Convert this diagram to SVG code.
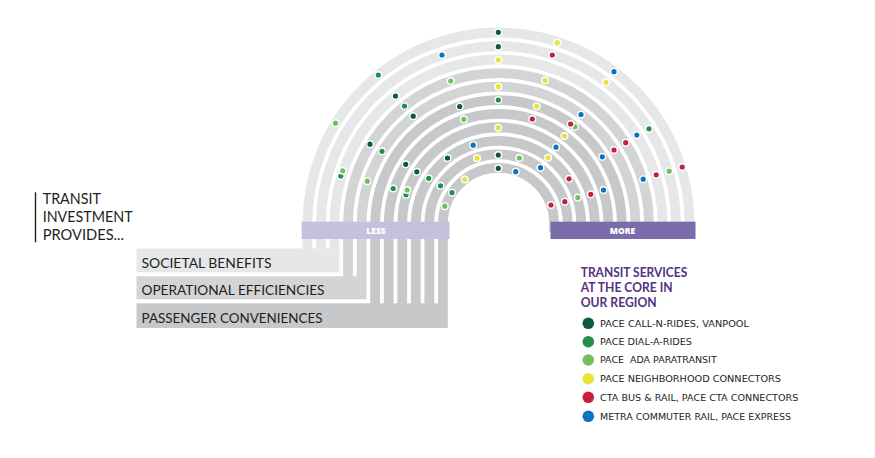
<svg xmlns="http://www.w3.org/2000/svg" width="875" height="458" viewBox="0 0 875 458">
<style>
.band{fill:none;stroke-width:9.8}
.l{stroke:#e6e7e8}.m{stroke:#d3d4d5}.d{stroke:#c7c8c9}
.dot{stroke:#fff;stroke-width:1.4}
.dg{fill:#0b5a3b}.g{fill:#22904a}.lg{fill:#72bf5e}.y{fill:#e8e336}.r{fill:#c5203e}.b{fill:#0b74c2}
.lbl{font-family:Lato,"Open Sans",sans-serif;font-size:14px;fill:#231f20}
.head{font-family:Lato,"Open Sans",sans-serif;font-size:14.5px;fill:#231f20}
.leg{font-family:"DejaVu Sans",sans-serif;font-size:8.5px;fill:#231f20}
.lt{font-family:Lato,"Open Sans",sans-serif;font-size:13px;font-weight:bold;fill:#55327f}
.bt{font-family:"Open Sans",Lato,sans-serif;font-size:8.5px;font-weight:800;fill:#fff;text-anchor:middle}
</style>
<rect width="875" height="458" fill="#fff"/>
<g id="arcs">
<path class="band l" d="M307.4,250 V223.5 A191.1,191.1 0 0 1 689.6,223.5 V232"/>
<path class="band l" d="M320.95,250 V223.5 A177.55,177.55 0 0 1 676.05,223.5 V232"/>
<path class="band l" d="M334.5,250 V223.5 A164,164 0 0 1 662.5,223.5 V232"/>
<path class="band m" d="M348.05,278 V223.5 A150.45,150.45 0 0 1 648.95,223.5 V232"/>
<path class="band m" d="M361.6,278 V223.5 A136.9,136.9 0 0 1 635.4,223.5 V232"/>
<path class="band d" d="M375.15,305 V223.5 A123.35,123.35 0 0 1 621.85,223.5 V232"/>
<path class="band d" d="M388.7,305 V223.5 A109.8,109.8 0 0 1 608.3,223.5 V232"/>
<path class="band d" d="M402.25,305 V223.5 A96.25,96.25 0 0 1 594.75,223.5 V232"/>
<path class="band d" d="M415.8,305 V223.5 A82.7,82.7 0 0 1 581.2,223.5 V232"/>
<path class="band d" d="M429.35,305 V223.5 A69.15,69.15 0 0 1 567.65,223.5 V232"/>
<path class="band d" d="M442.9,305 V223.5 A55.6,55.6 0 0 1 554.1,223.5 V232"/>
</g>
<g id="bar-societal">
<rect x="136.5" y="248.5" width="202.9" height="23.8" fill="#e6e7e8"/>
<text class="lbl" x="141.5" y="268" textLength="130" lengthAdjust="spacingAndGlyphs">SOCIETAL BENEFITS</text>
</g>
<g id="bar-operational">
<rect x="136.5" y="276.3" width="230" height="23" fill="#d3d4d5"/>
<text class="lbl" x="141.5" y="295" textLength="183" lengthAdjust="spacingAndGlyphs">OPERATIONAL EFFICIENCIES</text>
</g>
<g id="bar-passenger">
<rect x="136.5" y="303.3" width="311.3" height="24.7" fill="#c7c8c9"/>
<text class="lbl" x="141.5" y="323" textLength="181" lengthAdjust="spacingAndGlyphs">PASSENGER CONVENIENCES</text>
</g>
<g id="less">
<rect x="301.7" y="221.7" width="147.8" height="17.3" fill="#c4c1dc"/>
<text class="bt" x="376" y="233.6">LESS</text>
</g>
<g id="more">
<rect x="550.5" y="221.7" width="145" height="17.3" fill="#7a6caa"/>
<text class="bt" x="622.5" y="233.6">MORE</text>
</g>
<g id="title">
<line x1="35.5" y1="192.3" x2="35.5" y2="242.3" stroke="#231f20" stroke-width="1.4"/>
<text class="head" x="42.7" y="204" textLength="58.3" lengthAdjust="spacingAndGlyphs">TRANSIT</text>
<text class="head" x="42.7" y="222.3" textLength="90" lengthAdjust="spacingAndGlyphs">INVESTMENT</text>
<text class="head" x="42.7" y="240" textLength="81.3" lengthAdjust="spacingAndGlyphs">PROVIDES...</text>
</g>
<g id="dots">
<circle class="dot dg" cx="498.3" cy="32.3" r="3.3"/>
<circle class="dot y" cx="557.3" cy="42.7" r="3.3"/>
<circle class="dot dg" cx="498.3" cy="46.7" r="3.3"/>
<circle class="dot b" cx="442" cy="55" r="3.3"/>
<circle class="dot r" cx="552.3" cy="55" r="3.3"/>
<circle class="dot y" cx="498.3" cy="60" r="3.3"/>
<circle class="dot b" cx="614" cy="71.7" r="3.3"/>
<circle class="dot g" cx="378.3" cy="75" r="3.3"/>
<circle class="dot y" cx="606" cy="82.3" r="3.3"/>
<circle class="dot lg" cx="450.7" cy="81" r="3.3"/>
<circle class="dot y" cx="545" cy="80.3" r="3.3"/>
<circle class="dot y" cx="498.3" cy="86.7" r="3.3"/>
<circle class="dot dg" cx="395.5" cy="96" r="3.3"/>
<circle class="dot g" cx="498.3" cy="100" r="3.3"/>
<circle class="dot y" cx="536.7" cy="106.3" r="3.3"/>
<circle class="dot g" cx="404.5" cy="106" r="3.3"/>
<circle class="dot dg" cx="459.7" cy="106.5" r="3.3"/>
<circle class="dot dg" cx="413.2" cy="116.2" r="3.3"/>
<circle class="dot lg" cx="463.8" cy="119.3" r="3.3"/>
<circle class="dot r" cx="532.3" cy="119" r="3.3"/>
<circle class="dot b" cx="581" cy="114.5" r="3.3"/>
<circle class="dot lg" cx="335.5" cy="123.2" r="3.3"/>
<circle class="dot lg" cx="575" cy="126.7" r="3.3"/>
<circle class="dot r" cx="570.7" cy="124" r="3.3"/>
<circle class="dot g" cx="649" cy="128.8" r="3.3"/>
<circle class="dot y" cx="498.3" cy="127.7" r="3.3"/>
<circle class="dot y" cx="564.5" cy="136" r="3.3"/>
<circle class="dot b" cx="636.8" cy="135" r="3.3"/>
<circle class="dot dg" cx="370" cy="144.2" r="3.3"/>
<circle class="dot r" cx="625.7" cy="142.7" r="3.3"/>
<circle class="dot g" cx="382" cy="151.3" r="3.3"/>
<circle class="dot b" cx="473.2" cy="145.2" r="3.3"/>
<circle class="dot r" cx="614" cy="150" r="3.3"/>
<circle class="dot b" cx="556" cy="147.2" r="3.3"/>
<circle class="dot dg" cx="447.5" cy="158" r="3.3"/>
<circle class="dot y" cx="477" cy="158.2" r="3.3"/>
<circle class="dot dg" cx="498.3" cy="155" r="3.3"/>
<circle class="dot lg" cx="519.3" cy="158" r="3.3"/>
<circle class="dot y" cx="548.2" cy="157.8" r="3.3"/>
<circle class="dot b" cx="602.3" cy="156.8" r="3.3"/>
<circle class="dot dg" cx="405.7" cy="164.3" r="3.3"/>
<circle class="dot dg" cx="416.8" cy="171.8" r="3.3"/>
<circle class="dot g" cx="340.8" cy="176" r="3.3"/>
<circle class="dot lg" cx="342.7" cy="170.8" r="3.3"/>
<circle class="dot dg" cx="498.3" cy="168.3" r="3.3"/>
<circle class="dot b" cx="515.7" cy="171.7" r="3.3"/>
<circle class="dot b" cx="540.5" cy="167.7" r="3.3"/>
<circle class="dot r" cx="682.2" cy="167" r="3.3"/>
<circle class="dot lg" cx="669.2" cy="171.2" r="3.3"/>
<circle class="dot r" cx="656.2" cy="174.8" r="3.3"/>
<circle class="dot b" cx="643.2" cy="179.2" r="3.3"/>
<circle class="dot lg" cx="367.3" cy="181.2" r="3.3"/>
<circle class="dot g" cx="428.7" cy="178.3" r="3.3"/>
<circle class="dot r" cx="569" cy="178.8" r="3.3"/>
<circle class="dot y" cx="464.8" cy="179.5" r="3.3"/>
<circle class="dot g" cx="393.2" cy="188.5" r="3.3"/>
<circle class="dot g" cx="440.5" cy="185.8" r="3.3"/>
<circle class="dot g" cx="406" cy="194.8" r="3.3"/>
<circle class="dot lg" cx="407.2" cy="190" r="3.3"/>
<circle class="dot g" cx="452" cy="192.7" r="3.3"/>
<circle class="dot r" cx="590.8" cy="194.3" r="3.3"/>
<circle class="dot b" cx="603.5" cy="190" r="3.3"/>
<circle class="dot lg" cx="577.8" cy="197.6" r="3.3"/>
<circle class="dot r" cx="564.8" cy="201.7" r="3.3"/>
<circle class="dot r" cx="551" cy="205" r="3.3"/>
<circle class="dot lg" cx="444.8" cy="206.2" r="3.3"/>
</g>
<g id="legend">
<text class="lt" x="580.7" y="277.3" textLength="106.6" lengthAdjust="spacingAndGlyphs">TRANSIT SERVICES</text>
<text class="lt" x="580.7" y="292.3" textLength="92" lengthAdjust="spacingAndGlyphs">AT THE CORE IN</text>
<text class="lt" x="580.7" y="306.7" textLength="76" lengthAdjust="spacingAndGlyphs">OUR REGION</text>
<g id="leg-callnride"><circle class="dg" cx="588.3" cy="323.3" r="5.8"/><text class="leg" x="600" y="326.7" textLength="149" lengthAdjust="spacingAndGlyphs">PACE CALL-N-RIDES, VANPOOL</text></g>
<g id="leg-dialaride"><circle class="g" cx="588.3" cy="341.7" r="5.8"/><text class="leg" x="600" y="345" textLength="92" lengthAdjust="spacingAndGlyphs">PACE DIAL-A-RIDES</text></g>
<g id="leg-ada"><circle class="lg" cx="588.3" cy="360" r="5.8"/><text class="leg" x="600" y="363.4" textLength="116.7" lengthAdjust="spacingAndGlyphs" xml:space="preserve">PACE  ADA PARATRANSIT</text></g>
<g id="leg-neighborhood"><circle class="y" cx="588.3" cy="378.7" r="5.8"/><text class="leg" x="600" y="382" textLength="181" lengthAdjust="spacingAndGlyphs">PACE NEIGHBORHOOD CONNECTORS</text></g>
<g id="leg-cta"><circle class="r" cx="588.3" cy="397.3" r="5.8"/><text class="leg" x="600" y="400.7" textLength="198.3" lengthAdjust="spacingAndGlyphs">CTA BUS &amp; RAIL, PACE CTA CONNECTORS</text></g>
<g id="leg-metra"><circle class="b" cx="588.3" cy="416.3" r="5.8"/><text class="leg" x="600" y="419.8" textLength="191" lengthAdjust="spacingAndGlyphs">METRA COMMUTER RAIL, PACE EXPRESS</text></g>
</g>
</svg>
